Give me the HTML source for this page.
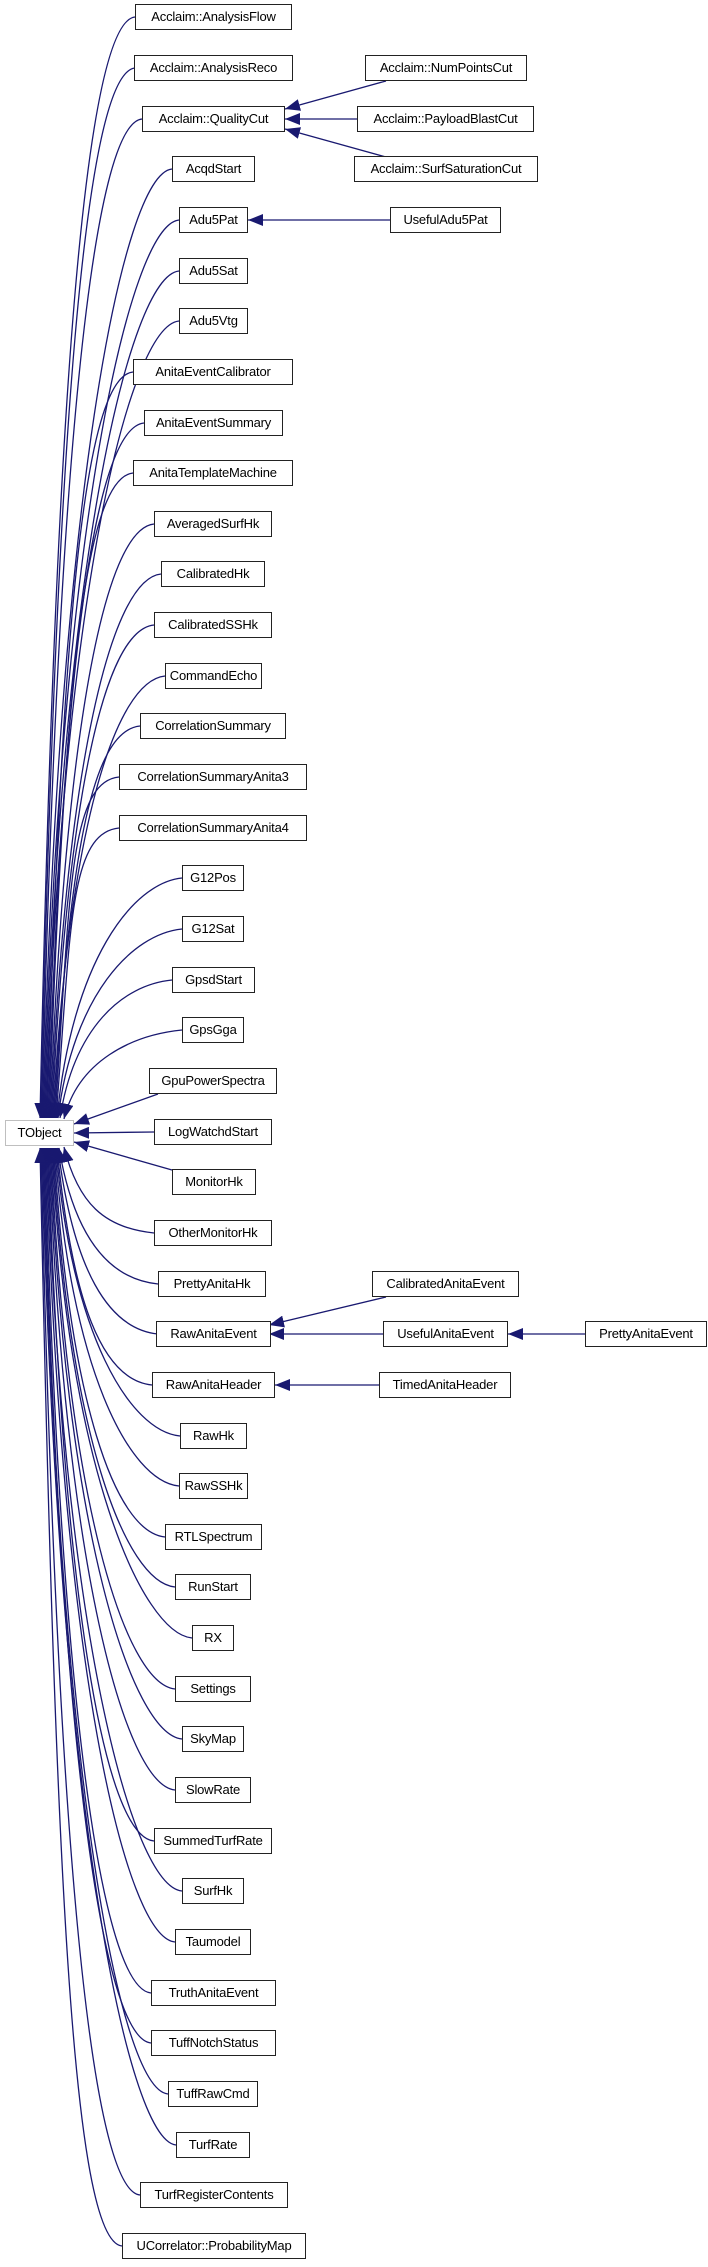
<!DOCTYPE html>
<html><head><meta charset="utf-8"><style>
body{margin:0;background:#fff;width:708px;height:2267px;position:relative;overflow:hidden}
.n{position:absolute;height:26px;box-sizing:border-box;border:1.5px solid #222;background:#fff;font:13px "Liberation Sans",sans-serif;line-height:23px;text-align:center;white-space:nowrap;color:#000;letter-spacing:-0.2px}
svg{position:absolute;left:0;top:0}
</style></head><body>
<svg width="708" height="2267" viewBox="0 0 708 2267">
<defs><marker id="a" markerUnits="userSpaceOnUse" markerWidth="15" markerHeight="12" refX="15" refY="6" orient="auto"><path d="M0,0 L15,6 L0,12 z" fill="#191970"/></marker></defs>
<g fill="none" stroke="#191970" stroke-width="1.3" marker-end="url(#a)">
<path d="M135,17 C85,22 55,402 40,1118"/>
<path d="M135,68 C85,73 56,436 41,1118"/>
<path d="M142,119 C92,124 57,469 42,1118"/>
<path d="M172,169 C122,174 58,501 43,1118"/>
<path d="M179,220 C129,225 59,534 44,1118"/>
<path d="M179,271 C129,276 60,567 45,1118"/>
<path d="M179,321 C129,326 61,600 46,1118"/>
<path d="M133,372 C83,377 62,633 47,1118"/>
<path d="M144,423 C94,428 63,666 48,1118"/>
<path d="M133,473 C83,478 64,699 49,1118"/>
<path d="M154,524 C104,529 65,732 50,1118"/>
<path d="M161,574 C111,579 66,764 51,1118"/>
<path d="M154,625 C104,630 67,798 52,1118"/>
<path d="M165,676 C115,681 68,831 53,1118"/>
<path d="M140,726 C90,731 69,863 54,1118"/>
<path d="M119,777 C69,782 70,896 55,1118"/>
<path d="M119,828 C69,833 71,929 56,1118"/>
<path d="M182,878 C132,883 72,962 57,1118"/>
<path d="M182,929 C132,934 73,995 58,1118"/>
<path d="M172,980 C122,985 74,1028 60,1118"/>
<path d="M182,1030 C132,1035 78,1061 64,1119"/>
<path d="M158,1094 L74,1124"/>
<path d="M154,1132 L74,1133"/>
<path d="M172,1170 L74,1142"/>
<path d="M154,1233 C104,1228 78,1203 64,1147"/>
<path d="M158,1284 C108,1279 74,1236 59,1148"/>
<path d="M158,1334 C108,1329 73,1269 58,1148"/>
<path d="M152,1385 C102,1380 72,1302 57,1148"/>
<path d="M180,1436 C130,1431 71,1335 56,1148"/>
<path d="M179,1486 C129,1481 70,1368 55,1148"/>
<path d="M165,1537 C115,1532 69,1401 54,1148"/>
<path d="M175,1587 C125,1582 68,1433 53,1148"/>
<path d="M192,1638 C142,1633 67,1467 52,1148"/>
<path d="M175,1689 C125,1684 66,1500 51,1148"/>
<path d="M182,1739 C132,1734 65,1532 50,1148"/>
<path d="M175,1790 C125,1785 64,1565 49,1148"/>
<path d="M154,1841 C104,1836 63,1598 48,1148"/>
<path d="M182,1891 C132,1886 62,1631 47,1148"/>
<path d="M175,1942 C125,1937 61,1664 46,1148"/>
<path d="M151,1993 C101,1988 60,1697 45,1148"/>
<path d="M151,2043 C101,2038 59,1730 44,1148"/>
<path d="M168,2094 C118,2089 58,1763 43,1148"/>
<path d="M176,2145 C126,2140 57,1796 42,1148"/>
<path d="M140,2195 C90,2190 56,1829 41,1148"/>
<path d="M122,2246 C72,2241 55,1862 40,1148"/>
<path d="M386,81 L285,109"/>
<path d="M365,119 L285,119"/>
<path d="M386,157 L285,129"/>
<path d="M390,220 L248,220"/>
<path d="M386,1297 L269,1325"/>
<path d="M383,1334 L269,1334"/>
<path d="M585,1334 L508,1334"/>
<path d="M379,1385 L275,1385"/>
</g></svg>
<div class="n" style="left:5px;top:1120px;width:69px;border-color:#bfbfbf">TObject</div>
<div class="n" style="left:135px;top:4px;width:157px">Acclaim::AnalysisFlow</div>
<div class="n" style="left:134px;top:55px;width:159px">Acclaim::AnalysisReco</div>
<div class="n" style="left:142px;top:106px;width:143px">Acclaim::QualityCut</div>
<div class="n" style="left:172px;top:156px;width:83px">AcqdStart</div>
<div class="n" style="left:179px;top:207px;width:69px">Adu5Pat</div>
<div class="n" style="left:179px;top:258px;width:69px">Adu5Sat</div>
<div class="n" style="left:179px;top:308px;width:69px">Adu5Vtg</div>
<div class="n" style="left:133px;top:359px;width:160px">AnitaEventCalibrator</div>
<div class="n" style="left:144px;top:410px;width:139px">AnitaEventSummary</div>
<div class="n" style="left:133px;top:460px;width:160px">AnitaTemplateMachine</div>
<div class="n" style="left:154px;top:511px;width:118px">AveragedSurfHk</div>
<div class="n" style="left:161px;top:561px;width:104px">CalibratedHk</div>
<div class="n" style="left:154px;top:612px;width:118px">CalibratedSSHk</div>
<div class="n" style="left:165px;top:663px;width:97px">CommandEcho</div>
<div class="n" style="left:140px;top:713px;width:146px">CorrelationSummary</div>
<div class="n" style="left:119px;top:764px;width:188px">CorrelationSummaryAnita3</div>
<div class="n" style="left:119px;top:815px;width:188px">CorrelationSummaryAnita4</div>
<div class="n" style="left:182px;top:865px;width:62px">G12Pos</div>
<div class="n" style="left:182px;top:916px;width:62px">G12Sat</div>
<div class="n" style="left:172px;top:967px;width:83px">GpsdStart</div>
<div class="n" style="left:182px;top:1017px;width:62px">GpsGga</div>
<div class="n" style="left:149px;top:1068px;width:128px">GpuPowerSpectra</div>
<div class="n" style="left:154px;top:1119px;width:118px">LogWatchdStart</div>
<div class="n" style="left:172px;top:1169px;width:84px">MonitorHk</div>
<div class="n" style="left:154px;top:1220px;width:118px">OtherMonitorHk</div>
<div class="n" style="left:158px;top:1271px;width:108px">PrettyAnitaHk</div>
<div class="n" style="left:156px;top:1321px;width:115px">RawAnitaEvent</div>
<div class="n" style="left:152px;top:1372px;width:123px">RawAnitaHeader</div>
<div class="n" style="left:180px;top:1423px;width:67px">RawHk</div>
<div class="n" style="left:179px;top:1473px;width:69px">RawSSHk</div>
<div class="n" style="left:165px;top:1524px;width:97px">RTLSpectrum</div>
<div class="n" style="left:175px;top:1574px;width:76px">RunStart</div>
<div class="n" style="left:192px;top:1625px;width:42px">RX</div>
<div class="n" style="left:175px;top:1676px;width:76px">Settings</div>
<div class="n" style="left:182px;top:1726px;width:62px">SkyMap</div>
<div class="n" style="left:175px;top:1777px;width:76px">SlowRate</div>
<div class="n" style="left:154px;top:1828px;width:118px">SummedTurfRate</div>
<div class="n" style="left:182px;top:1878px;width:62px">SurfHk</div>
<div class="n" style="left:175px;top:1929px;width:76px">Taumodel</div>
<div class="n" style="left:151px;top:1980px;width:125px">TruthAnitaEvent</div>
<div class="n" style="left:151px;top:2030px;width:125px">TuffNotchStatus</div>
<div class="n" style="left:168px;top:2081px;width:90px">TuffRawCmd</div>
<div class="n" style="left:176px;top:2132px;width:74px">TurfRate</div>
<div class="n" style="left:140px;top:2182px;width:148px">TurfRegisterContents</div>
<div class="n" style="left:122px;top:2233px;width:184px">UCorrelator::ProbabilityMap</div>
<div class="n" style="left:365px;top:55px;width:162px">Acclaim::NumPointsCut</div>
<div class="n" style="left:357px;top:106px;width:177px">Acclaim::PayloadBlastCut</div>
<div class="n" style="left:354px;top:156px;width:184px">Acclaim::SurfSaturationCut</div>
<div class="n" style="left:390px;top:207px;width:111px">UsefulAdu5Pat</div>
<div class="n" style="left:372px;top:1271px;width:147px">CalibratedAnitaEvent</div>
<div class="n" style="left:383px;top:1321px;width:125px">UsefulAnitaEvent</div>
<div class="n" style="left:379px;top:1372px;width:132px">TimedAnitaHeader</div>
<div class="n" style="left:585px;top:1321px;width:122px">PrettyAnitaEvent</div>
</body></html>
